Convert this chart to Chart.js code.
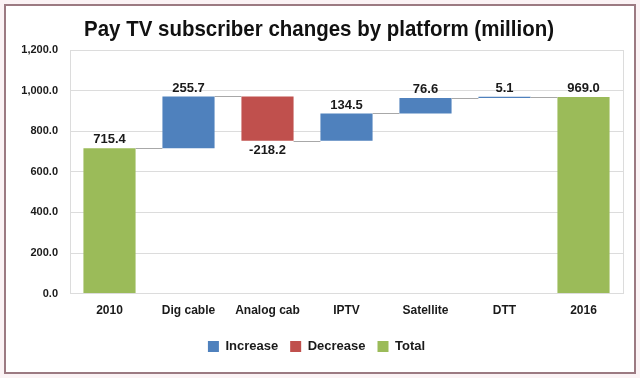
<!DOCTYPE html>
<html><head><meta charset="utf-8">
<script src="https://cdn.jsdelivr.net/npm/chart.js@4/dist/chart.umd.min.js"></script>
<style>
html,body{margin:0;padding:0;background:#fbf3f5;}
#wrap{position:relative;width:640px;height:378px;}
#frame{position:absolute;left:4px;top:4px;width:628px;height:366px;border:2px solid #9c7a82;background:#fff;}
canvas{position:absolute;left:0;top:0;}
</style></head>
<body>
<div id="wrap"><div id="frame"></div><canvas id="c" width="640" height="378"></canvas></div>
<script>
const titleText = "Pay TV subscriber changes by platform (million)";
const categories = ["2010","Dig cable","Analog cab","IPTV","Satellite","DTT","2016"];
const changes = [715.4, 255.7, -218.2, 134.5, 76.6, 5.1, 969.0];
const kinds = ["total","inc","dec","inc","inc","inc","total"];
const yTicks = [0,200,400,600,800,1000,1200];
const seriesNames = {inc:"Increase", dec:"Decrease", total:"Total"};
const colors = {inc:"#4f81bd", dec:"#c0504d", total:"#9bbb59"};
const FONT = '"Liberation Sans", Arial, sans-serif';

// floating ranges from the values
let running = 0;
const ranges = changes.map((v,i)=>{
  if(kinds[i]==="total"){ running = v; return [0,v]; }
  const s = running; running = s + v; return [s, running];
});
function ds(kind){
  return {label:seriesNames[kind], data:ranges.map((r,i)=>kinds[i]===kind?r:null),
    backgroundColor:colors[kind], borderWidth:0, grouped:false,
    barPercentage:0.66, categoryPercentage:1.0};
}
const fmt = new Intl.NumberFormat('en-US',{minimumFractionDigits:1,maximumFractionDigits:1});

const titlePlugin = {
  id:'condensedTitle',
  afterDraw(chart){
    const ctx = chart.ctx;
    ctx.save();
    ctx.font = 'bold 22px ' + FONT;
    const w = ctx.measureText(titleText).width;
    const sx = Math.min(1, 470 / w);
    ctx.translate(319, 30);
    ctx.scale(sx, 1);
    ctx.fillStyle = '#111';
    ctx.textAlign = 'center'; ctx.textBaseline = 'middle';
    ctx.fillText(titleText, 0, 0);
    ctx.restore();
  }
};

const extras = {
  id:'extras',
  afterDatasetsDraw(chart){
    const ctx = chart.ctx, y = chart.scales.y;
    const bars = categories.map((c,i)=>{
      for(let d=0; d<chart.data.datasets.length; d++){
        if(chart.data.datasets[d].data[i]) return chart.getDatasetMeta(d).data[i];
      }
    });
    ctx.save();
    ctx.strokeStyle = '#a8a8a8'; ctx.lineWidth = 1;
    for(let i=0;i<categories.length-1;i++){
      const lvl = ranges[i][1];
      const py = Math.round(y.getPixelForValue(lvl))+0.5;
      const b1 = bars[i], b2 = bars[i+1];
      ctx.beginPath();
      ctx.moveTo(b1.x + b1.width/2, py);
      ctx.lineTo(b2.x - b2.width/2, py);
      ctx.stroke();
    }
    ctx.fillStyle = '#1a1a1a';
    ctx.font = 'bold 13px ' + FONT;
    ctx.textAlign = 'center';
    changes.forEach((v,i)=>{
      const b = bars[i];
      const top = y.getPixelForValue(Math.max(ranges[i][0],ranges[i][1]));
      const bot = y.getPixelForValue(Math.min(ranges[i][0],ranges[i][1]));
      if(v>=0){ ctx.textBaseline='bottom'; ctx.fillText(fmt.format(v), b.x, top-2); }
      else { ctx.textBaseline='top'; ctx.fillText(fmt.format(v), b.x, bot+3); }
    });
    ctx.restore();
  }
};

new Chart(document.getElementById('c'), {
  type:'bar',
  data:{labels:categories, datasets:[ds('inc'), ds('dec'), ds('total')]},
  options:{
    responsive:false, animation:false,
    layout:{padding:{left:10,right:17,top:50,bottom:15}},
    plugins:{
      title:{display:false},
      legend:{position:'bottom', labels:{boxWidth:11, boxHeight:11, padding:12, color:'#1a1a1a',
        font:{family:FONT, size:13, weight:'bold'}}},
      tooltip:{enabled:false}
    },
    scales:{
      x:{grid:{display:false, drawTicks:false}, border:{display:true,color:'#dcdcdc'},
        ticks:{color:'#1a1a1a', padding:10, font:{family:FONT, size:12, weight:'bold'}}},
      y:{min:0, max:1200, afterBuildTicks(s){ s.ticks = yTicks.map(v=>({value:v})); },
        afterFit(s){ s.width = 60; },
        grid:{color:'#dcdcdc', drawTicks:false}, border:{display:true,color:'#dcdcdc'},
        ticks:{color:'#1a1a1a', padding:12, callback:v=>fmt.format(v),
          font:{family:FONT, size:11, weight:'bold'}}}
    }
  },
  plugins:[extras, titlePlugin, {id:'rightEdge', afterDraw(chart){const a=chart.chartArea,c=chart.ctx;c.save();c.strokeStyle='#dcdcdc';c.beginPath();c.moveTo(Math.round(a.right)+0.5,a.top);c.lineTo(Math.round(a.right)+0.5,a.bottom);c.stroke();c.restore();}}]
});
</script>
</body></html>
